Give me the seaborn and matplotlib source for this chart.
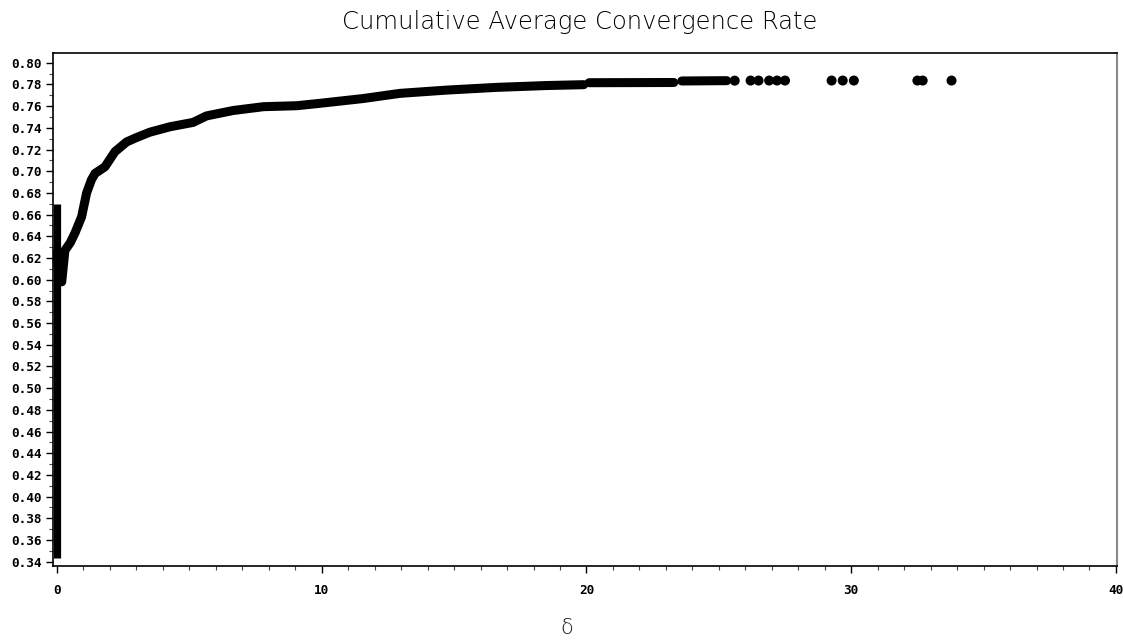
import matplotlib
matplotlib.use("Agg")
import matplotlib.pyplot as plt
import seaborn as sns
import pandas as pd
import numpy as np
from matplotlib.ticker import MultipleLocator, FixedLocator

# ---- data ----
bar_x = [0.0, 0.0]
bar_y = [0.343, 0.670]

curve_x = [0.0, 0.08, 0.18, 0.3, 0.5, 0.68, 0.93, 1.12, 1.3, 1.44, 1.81, 2.19,
           2.63, 3.0, 3.51, 4.27, 5.14, 5.65, 6.66, 7.8, 9.06, 9.93, 11.56,
           12.96, 14.72, 16.6, 18.5, 19.9]
curve_y = [0.625, 0.600, 0.598, 0.627, 0.634, 0.643, 0.658, 0.680, 0.692, 0.698,
           0.704, 0.718, 0.727, 0.731, 0.736, 0.741, 0.745, 0.751, 0.756, 0.7595,
           0.7604, 0.7626, 0.767, 0.7718, 0.7748, 0.7773, 0.779, 0.7798]

seg2_x = [20.1, 23.3]
seg2_y = [0.7816, 0.7818]
seg3_x = [23.6, 25.3]
seg3_y = [0.7832, 0.7835]

dot_x = [25.6, 26.2, 26.5, 26.9, 27.2, 27.5, 29.26, 29.68, 30.1, 32.5, 32.7, 33.79]
dot_y = [0.7835, 0.7836, 0.7836, 0.7836, 0.7836, 0.7836, 0.7836, 0.7836, 0.7836,
         0.7836, 0.7836, 0.7836]

y_ticks = [0.34, 0.36, 0.38, 0.40, 0.42, 0.44, 0.46, 0.48, 0.50, 0.52, 0.54, 0.56,
           0.58, 0.60, 0.62, 0.64, 0.66, 0.68, 0.70, 0.72, 0.74, 0.76, 0.78, 0.80]
x_ticks = [0, 10, 20, 30, 40]

title = "Cumulative Average Convergence Rate"
xlabel = "δ"

# ---- build tables ----
lines = pd.concat([
    pd.DataFrame({"x": curve_x, "y": curve_y, "seg": 1}),
    pd.DataFrame({"x": seg2_x, "y": seg2_y, "seg": 2}),
    pd.DataFrame({"x": seg3_x, "y": seg3_y, "seg": 3}),
], ignore_index=True)
bar = pd.DataFrame({"x": bar_x, "y": bar_y, "seg": 0})
dots = pd.DataFrame({"x": dot_x, "y": dot_y})

sns.set_style("ticks")
plt.rcParams["font.family"] = ["DejaVu Sans"]

fig = plt.figure(figsize=(11.24, 6.41), dpi=100)
ax = fig.add_axes([53 / 1124, 1 - 566 / 641, (1117 - 53) / 1124, (566 - 53) / 641])

sns.lineplot(data=bar, x="x", y="y", units="seg", estimator=None, sort=False,
             color="black", linewidth=5.2, ax=ax, solid_capstyle="butt")
sns.lineplot(data=lines, x="x", y="y", units="seg", estimator=None, sort=False,
             color="black", linewidth=6.5, ax=ax, solid_capstyle="round")
sns.scatterplot(data=dots, x="x", y="y", color="black", s=52, edgecolor="none",
                ax=ax)

ax.set_xlim(-0.15, 40.04)
ax.set_ylim(0.336, 0.809)
ax.yaxis.set_major_locator(FixedLocator(y_ticks))
ax.yaxis.set_minor_locator(MultipleLocator(0.01))
ax.xaxis.set_major_locator(FixedLocator(x_ticks))
ax.xaxis.set_minor_locator(MultipleLocator(1))
ax.set_yticklabels([f"{v:.2f}" for v in y_ticks])
ax.set_xticklabels([str(v) for v in x_ticks])

for lab in ax.get_yticklabels() + ax.get_xticklabels():
    lab.set_fontfamily("DejaVu Sans Mono")
    lab.set_fontweight("bold")
    lab.set_fontsize(9.2)
    lab.set_color("black")

ax.tick_params(axis="both", which="major", length=5, width=1, color="black",
               direction="out", pad=3)
ax.tick_params(axis="both", which="minor", length=3, width=0.8, color="#444444",
               direction="out")
ax.tick_params(axis="x", which="major", pad=8)

for side in ["left", "bottom", "top"]:
    ax.spines[side].set_visible(True)
    ax.spines[side].set_color("black")
    ax.spines[side].set_linewidth(1.2)
ax.spines["right"].set_visible(True)
ax.spines["right"].set_color("#888888")
ax.spines["right"].set_linewidth(1.5)

ax.set_xlabel(xlabel, fontsize=15, fontweight="light", color="#222222")
ax.xaxis.set_label_coords((567 - 53) / 1064, -(628 - 566) / 513)
ax.xaxis.label.set_verticalalignment("center")
ax.set_ylabel("")
fig.text(580 / 1124, 1 - 22 / 641, title, ha="center", va="center", fontsize=17.5,
         fontweight="light", color="black")

fig.savefig("out.png", dpi=100)
